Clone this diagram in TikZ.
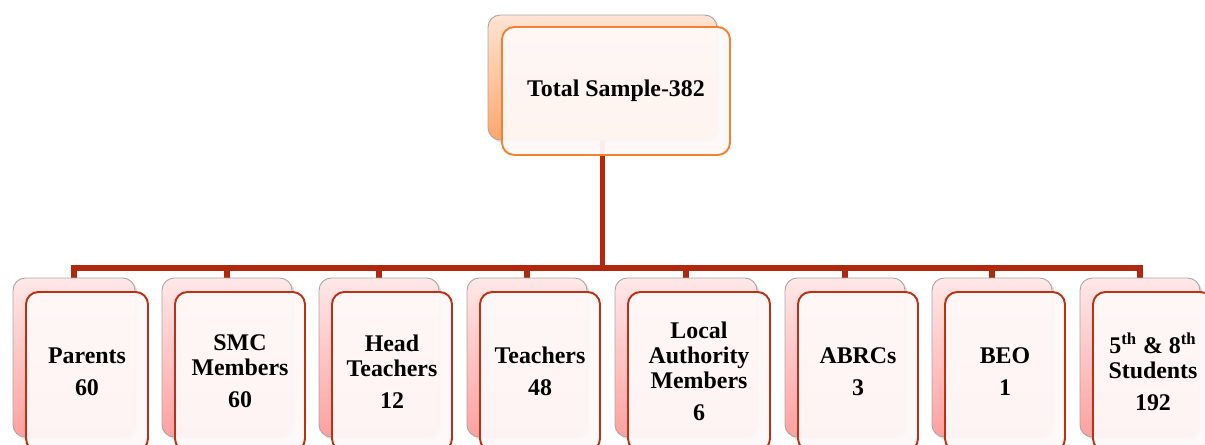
\documentclass[tikz,border=0pt]{standalone}
\usepackage{fontspec}
\setmainfont{Liberation Serif}
\usetikzlibrary{backgrounds,shadows}
\definecolor{linkred}{RGB}{178,40,12}
\definecolor{edgered}{RGB}{190,48,20}
\definecolor{edgeorange}{RGB}{245,128,48}
\definecolor{paper}{RGB}{254,249,248}
\definecolor{pinktop}{RGB}{255,232,232}
\definecolor{pinkbot}{RGB}{255,160,160}
\definecolor{peachtop}{RGB}{255,228,212}
\definecolor{peachbot}{RGB}{255,165,110}

\begin{document}
\begin{tikzpicture}[x=0.02cm, y=-0.02cm,
    link/.style={line width=3.2pt, draw=linkred},
    backcard/.style={draw=gray!70, line width=0.5pt, rounded corners=7pt,
        drop shadow={opacity=0.25, shadow xshift=1.5pt, shadow yshift=-1.5pt}},
    frontcard/.style={draw=edgered, line width=1.1pt, rounded corners=7pt,
        fill=paper, fill opacity=0.94, text opacity=1, align=center,
        font=\fontsize{13.6}{14.2}\selectfont\bfseries}]
    \useasboundingbox (0,0) rectangle (1205,445);

    % Top box
    \node[backcard, top color=peachtop, bottom color=peachbot,
        minimum width=4.58cm, minimum height=2.5cm] (top-back) at (602.5,77.5) {};
    \node[frontcard, draw=edgeorange, minimum width=4.56cm, minimum height=2.56cm]
        (top) at (616,91) {Total Sample-382};

    % Groups
    \foreach \cx/\bw/\nm/\txt in {
        74/2.44/par/{Parents\\[4pt]60},
        227/2.6/smc/{SMC\\Members\\[4pt]60},
        379/2.4/head/{Head\\Teachers\\[4pt]12},
        527/2.4/tea/{Teachers\\[4pt]48},
        686/2.84/lam/{Local\\Authority\\Members\\[4pt]6},
        845/2.4/abrc/{ABRCs\\[4pt]3},
        992/2.4/beo/{BEO\\[4pt]1},
        1140/2.4/stu/{5\textsuperscript{th} \& 8\textsuperscript{th}\\Students\\[4pt]192}} {
        \node[backcard, top color=pinktop, bottom color=pinkbot,
            minimum width=\bw cm, minimum height=3.18cm] (\nm-back) at (\cx,357.5) {};
        \node[frontcard, minimum width=\bw cm, minimum height=3.18cm]
            (\nm) at (\cx+13,371.5) {\txt};
    }

    % Connectors
    \begin{scope}[on background layer]
        \coordinate (fork) at (602.5,268);
        \draw[link] (top-back.south) -- (fork);
        \foreach \nm in {par,smc,head,tea,lam,abrc,beo,stu}
            \draw[link] (fork) -| (\nm-back.north);
    \end{scope}
\end{tikzpicture}
\end{document}
